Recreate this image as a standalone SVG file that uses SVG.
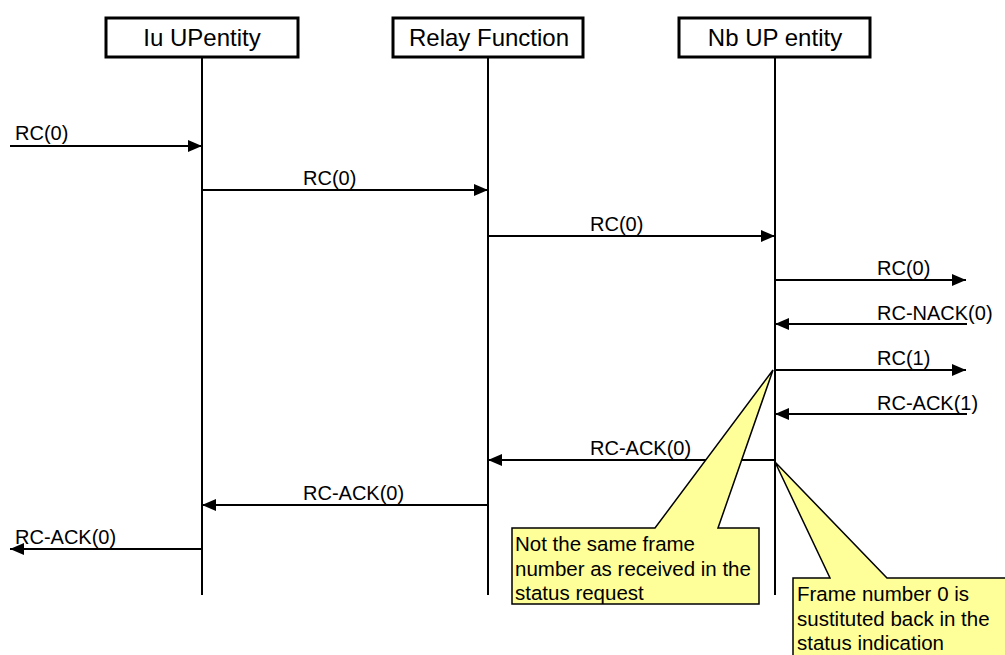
<svg xmlns="http://www.w3.org/2000/svg" width="1005" height="655" viewBox="0 0 1005 655">
<style>
.box{fill:#fff;stroke:#000;stroke-width:3}
.hdr{font-family:"Liberation Sans",Arial,sans-serif;font-size:24px;text-anchor:middle;fill:#000}
.life{stroke:#000;stroke-width:2;fill:none}
.msg{stroke:#000;stroke-width:2;fill:none;marker-end:url(#ah)}
.lbl{font-family:"Liberation Sans",Arial,sans-serif;font-size:20px;fill:#000}
.note{fill:#ffff99;stroke:#000;stroke-width:1.5}
.nt{font-family:"Liberation Sans",Arial,sans-serif;font-size:20.5px;fill:#000}
</style>
<defs>
<marker id="ah" markerUnits="userSpaceOnUse" markerWidth="14" markerHeight="12" refX="14" refY="6" orient="auto">
<path d="M0,0 L14,6 L0,12 Z" fill="#000"/>
</marker>
</defs>
<rect width="1005" height="655" fill="#fff"/>
<g id="iu">
<rect class="box" x="106" y="18" width="192" height="39"/>
<text class="hdr" x="202" y="46">Iu UPentity</text>
<line class="life" x1="202" y1="57" x2="202" y2="595"/>
</g>
<g id="relay">
<rect class="box" x="393" y="18" width="190" height="39"/>
<text class="hdr" x="489" y="46">Relay Function</text>
<line class="life" x1="488" y1="57" x2="488" y2="595"/>
</g>
<g id="nb">
<rect class="box" x="679" y="18" width="191" height="39"/>
<text class="hdr" x="775" y="46">Nb UP entity</text>
<line class="life" x1="775" y1="57" x2="775" y2="595"/>
</g>
<g id="connectors">
<line class="msg" x1="10" y1="146" x2="202" y2="146"/>
<text class="lbl" x="15" y="140">RC(0)</text>
<line class="msg" x1="202" y1="190" x2="488" y2="190"/>
<text class="lbl" x="303" y="185">RC(0)</text>
<line class="msg" x1="488" y1="236" x2="775" y2="236"/>
<text class="lbl" x="590" y="231">RC(0)</text>
<line class="msg" x1="775" y1="280" x2="966" y2="280"/>
<text class="lbl" x="877" y="275">RC(0)</text>
<line class="msg" x1="967" y1="324" x2="775" y2="324"/>
<text class="lbl" x="877" y="320">RC-NACK(0)</text>
<line class="msg" x1="775" y1="370" x2="966" y2="370"/>
<text class="lbl" x="877" y="365">RC(1)</text>
<line class="msg" x1="967" y1="414" x2="775" y2="414"/>
<text class="lbl" x="877" y="410">RC-ACK(1)</text>
<line class="msg" x1="775" y1="460" x2="488" y2="460"/>
<text class="lbl" x="590" y="455">RC-ACK(0)</text>
<line class="msg" x1="488" y1="505" x2="202" y2="505"/>
<text class="lbl" x="303" y="500">RC-ACK(0)</text>
<line class="msg" x1="202" y1="549" x2="10" y2="549"/>
<text class="lbl" x="15" y="544">RC-ACK(0)</text>
</g>
<g id="note1">
<path class="note" d="M512,528 L655,528 L773,370 L718,528 L759,528 L759,604 L512,604 Z"/>
<text class="nt" x="515" y="551">Not the same frame</text>
<text class="nt" x="515" y="576">number as received in the</text>
<text class="nt" x="515" y="600">status request</text>
</g>
<g id="note2">
<path class="note" d="M793,578 L830,578 L775,462 L887,578 L1006,578 L1006,660 L793,660 Z"/>
<text class="nt" x="797" y="601">Frame number 0 is</text>
<text class="nt" x="797" y="626">sustituted back in the</text>
<text class="nt" x="797" y="650">status indication</text>
</g>
</svg>
